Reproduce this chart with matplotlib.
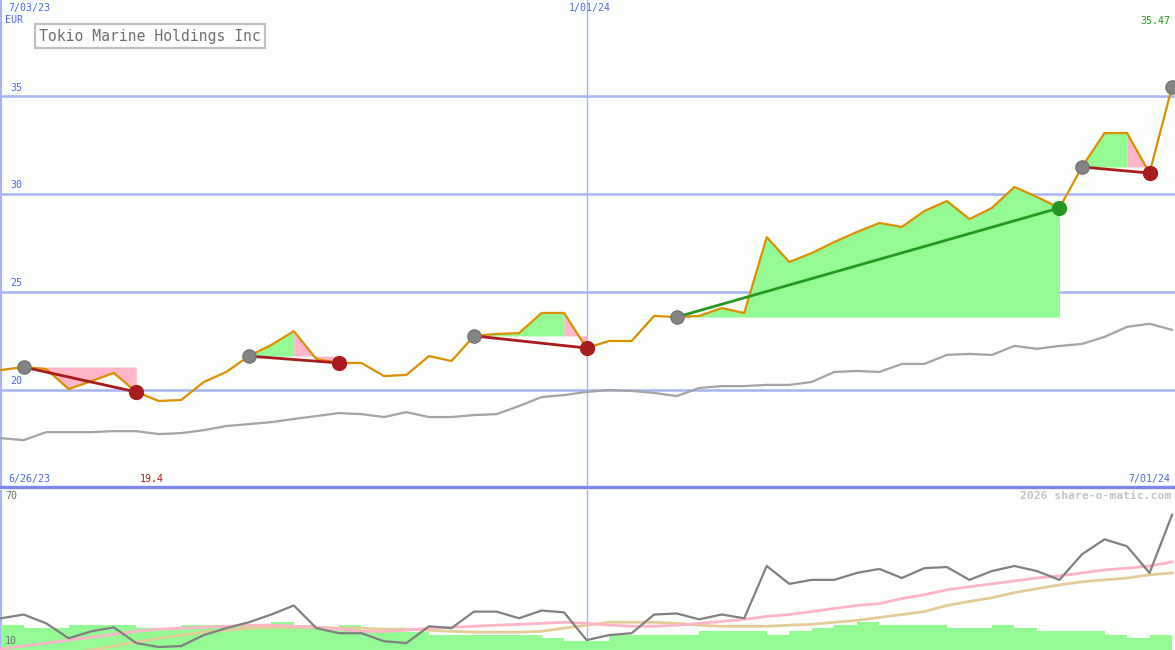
import matplotlib
matplotlib.use("Agg")
import matplotlib.pyplot as plt
import numpy as np

# weekly closes 7/03/23 .. 7/01/24 (EUR)
price = [21.02, 21.17, 21.07, 20.05, 20.45, 20.87, 19.90, 19.44, 19.49, 20.41,
         20.92, 21.73, 22.30, 23.00, 21.58, 21.38, 21.38, 20.71, 20.77, 21.73,
         21.48, 22.76, 22.86, 22.90, 23.93, 23.93, 22.14, 22.50, 22.50, 23.78,
         23.72, 23.78, 24.18, 23.93, 27.80, 26.53, 26.99, 27.55, 28.06, 28.52,
         28.32, 29.13, 29.64, 28.72, 29.29, 30.36, 29.85, 29.29, 31.38, 33.11,
         33.11, 31.07, 35.47]
# comparison index, rescaled to price axis
bench = [17.54, 17.44, 17.85, 17.85, 17.85, 17.90, 17.90, 17.75, 17.80, 17.95,
         18.16, 18.26, 18.36, 18.52, 18.67, 18.82, 18.77, 18.62, 18.87, 18.62,
         18.62, 18.72, 18.77, 19.18, 19.64, 19.74, 19.90, 20.00, 19.95, 19.85,
         19.69, 20.10, 20.20, 20.20, 20.26, 20.26, 20.41, 20.92, 20.97, 20.92,
         21.33, 21.33, 21.79, 21.84, 21.79, 22.25, 22.10, 22.25, 22.35, 22.71,
         23.22, 23.38, 23.07]
# lower panel
osc = [21.9, 23.3, 20.0, 14.4, 17.0, 18.5, 12.6, 11.1, 11.5, 15.6,
       18.2, 20.4, 23.3, 26.7, 18.2, 16.3, 16.3, 13.3, 12.6, 18.9,
       18.2, 24.4, 24.4, 21.9, 24.8, 24.1, 13.7, 15.6, 16.3, 23.3,
       23.7, 21.5, 23.3, 21.9, 41.5, 34.8, 36.3, 36.3, 38.9, 40.4,
       37.0, 40.7, 41.1, 36.3, 39.6, 41.5, 39.6, 36.3, 45.9, 51.5,
       48.9, 38.9, 60.7]
avg_fast = [10.4, 11.5, 12.6, 13.7, 14.8, 15.9, 17.0, 17.8, 18.2, 18.5,
            18.9, 19.3, 19.3, 18.9, 18.5, 17.8, 17.0, 17.0, 17.4, 18.2,
            18.5, 18.9, 19.3, 19.6, 20.0, 20.4, 20.0, 19.3, 18.9, 18.9,
            19.3, 20.0, 20.7, 21.5, 22.6, 23.3, 24.4, 25.6, 26.7, 27.4,
            29.3, 30.7, 32.6, 33.7, 34.8, 35.9, 37.0, 37.8, 38.9, 40.0,
            40.7, 41.5, 43.0]
avg_slow = [5.6, 6.7, 7.8, 8.9, 10.0, 11.5, 13.0, 14.4, 15.6, 16.7,
            17.4, 18.2, 18.5, 18.5, 18.5, 18.2, 18.2, 17.8, 17.8, 17.4,
            17.0, 16.7, 16.7, 16.7, 17.0, 18.2, 19.3, 20.4, 20.4, 20.4,
            20.0, 19.3, 18.9, 18.9, 18.9, 19.3, 19.6, 20.4, 21.1, 22.2,
            23.3, 24.4, 26.7, 28.2, 29.6, 31.5, 33.0, 34.4, 35.6, 36.3,
            37.0, 38.2, 38.9]
volume = [19.3, 18.2, 18.2, 19.3, 19.3, 19.3, 18.2, 18.2, 19.3, 19.3,
          19.3, 19.3, 20.4, 19.3, 17.8, 19.3, 16.7, 16.7, 16.7, 15.6,
          15.6, 15.6, 15.6, 15.6, 14.4, 13.3, 13.3, 15.6, 15.6, 15.6,
          15.6, 17.0, 17.0, 17.0, 15.6, 17.0, 18.2, 19.3, 20.4, 19.3,
          19.3, 19.3, 18.2, 18.2, 19.3, 18.2, 17.0, 17.0, 17.0, 15.6,
          14.4, 15.6]

# trades: buy week, sell week, last week of the green part
trade_buy = [1, 11, 21, 30, 48]
trade_sell = [6, 15, 26, 47, 51]
trade_peak = [1, 13, 25, 47, 50]
open_buy = 52

BG = "#fcfffc"
GRID = "#a8b4f4"
BLUE = "#5068f0"
GREEN_FILL = "#94fa94"
PINK_FILL = "#ffb6c8"
ORANGE = "#dc9000"
DRED = "#a81c1c"
DGREEN = "#229a22"
MONO = "DejaVu Sans Mono"

price = np.array(price)
x = np.arange(len(price))
W, H = 1175, 650
fig = plt.figure(figsize=(W / 100, H / 100), dpi=100, facecolor=BG)

ax1 = fig.add_axes([0, (H - 487) / H, 1, 487 / H], facecolor=BG)
ax2 = fig.add_axes([0, 0, 1, 160 / H], facecolor=BG)
for ax in (ax1, ax2):
    ax.set_xlim(-0.05, 52.13)
    ax.set_xticks([])
    ax.set_yticks([])
    for s in ax.spines.values():
        s.set_visible(False)
    ax.axvline(-0.03, color=GRID, lw=2.2, zorder=0)
    ax.axvline(26, color=GRID, lw=1, zorder=0)

# ---- top panel
ax1.set_ylim(15.05, 39.9)
for lvl in (20, 25, 30, 35):
    ax1.axhline(lvl, color=GRID, lw=1.8, zorder=0)
    ax1.text(0.4, lvl + 0.18, str(lvl), color=BLUE, fontsize=7.2,
             family=MONO, va="bottom", ha="left")
ax1.spines["bottom"].set_visible(True)
ax1.spines["bottom"].set_color("#7c88ee")
ax1.spines["bottom"].set_linewidth(2.4)

ax1.plot(x, bench, color="#a4a4a4", lw=1.6, zorder=2)

for b, s, p in zip(trade_buy, trade_sell, trade_peak):
    lvl = price[b]
    if p > b:
        xs = x[b:p + 1]
        ax1.fill_between(xs, price[b:p + 1], lvl, color=GREEN_FILL, lw=0, zorder=1)
    if s > p:
        xs = x[p:s + 1]
        ax1.fill_between(xs, price[p:s + 1], lvl, color=PINK_FILL, lw=0, zorder=1)

ax1.plot(x, price, color=ORANGE, lw=1.6, zorder=3)

for b, s in zip(trade_buy, trade_sell):
    win = price[s] > price[b]
    c = DGREEN if win else DRED
    ax1.plot([b, s], [price[b], price[s]], color=c, lw=2.0, zorder=4)
    ax1.plot(b, price[b], "o", color="#848484", ms=9.5, mec="#747474", zorder=5)
    ax1.plot(s, price[s], "o", color=c, ms=10, mec=c, zorder=5)
ax1.plot(open_buy, price[open_buy], "o", color="#848484", ms=9.5, mec="#747474", zorder=5)

# ---- bottom panel
ax2.set_ylim(10, 70)
ax2.bar(x[:-1], volume, width=1, align="edge", color=GREEN_FILL, lw=0, zorder=1)
ax2.plot(x, avg_slow, color="#e4cc98", lw=2.0, zorder=2)
ax2.plot(x, avg_fast, color="#ffb4c8", lw=2.0, zorder=3)
ax2.plot(x, osc, color="#808080", lw=1.6, zorder=4)

# ---- texts (pixel positions)
def px(xp, yp, s, **kw):
    fig.text(xp / W, 1 - yp / H, s, family=MONO, **kw)

px(8, 8, "7/03/23", color=BLUE, fontsize=7.2, va="center")
px(5, 20, "EUR", color=BLUE, fontsize=7.2, va="center")
px(590, 8, "1/01/24", color=BLUE, fontsize=7.2, va="center", ha="center")
px(1170, 21, "35.47", color=DGREEN, fontsize=7.2, va="center", ha="right")
px(8, 479, "6/26/23", color=BLUE, fontsize=7.2, va="center")
px(140, 479, "19.4", color=DRED, fontsize=7.2, va="center")
px(1170, 479, "7/01/24", color=BLUE, fontsize=7.2, va="center", ha="right")
px(5, 496, "70", color="#707070", fontsize=7.2, va="center")
px(5, 641, "10", color="#707070", fontsize=7.2, va="center")
px(1171, 496, "2026 share-o-matic.com", color="#c4c4c4", fontsize=8.2,
   weight="bold", va="center", ha="right")
px(150, 36, "Tokio Marine Holdings Inc", color="#707070", fontsize=10.6,
   va="center", ha="center",
   bbox=dict(boxstyle="square,pad=0.3", fc=BG, ec="#c0c0c0", lw=1.6))

fig.savefig("out.png", dpi=100, facecolor=BG)
